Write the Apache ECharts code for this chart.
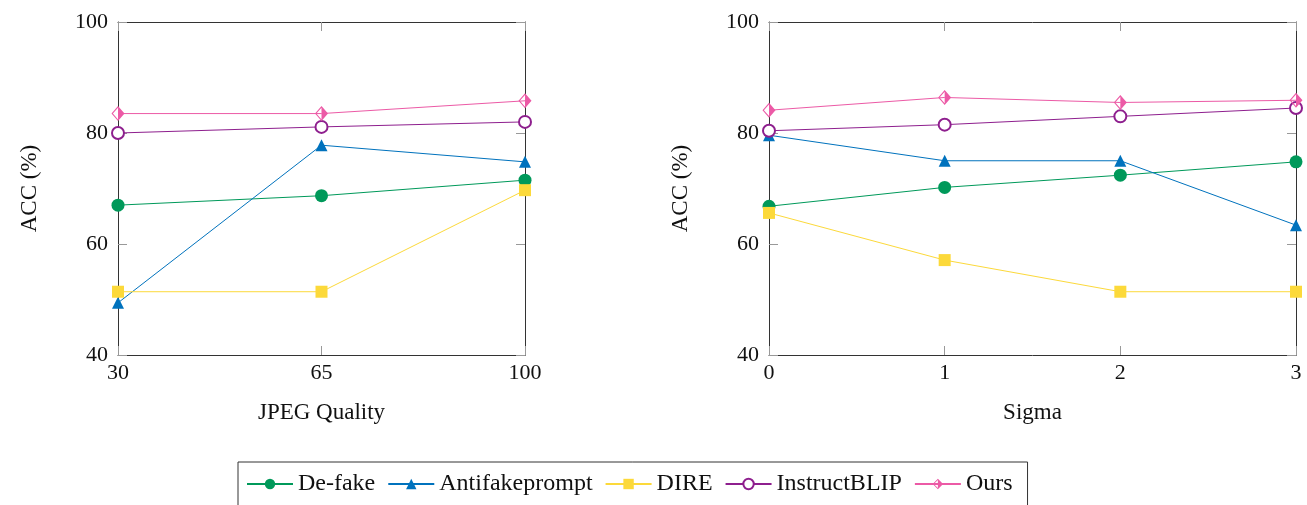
<!DOCTYPE html>
<html>
<head>
<meta charset="utf-8">
<script src="https://cdn.jsdelivr.net/npm/echarts@6/dist/echarts.min.js"></script>
<style>
  html, body { margin: 0; padding: 0; background: #fff; }
  #main { width: 1307px; height: 505px; }
</style>
</head>
<body>
<div id="main"></div>
<script>
// x categories
var jpegQuality = ['30', '65', '100'];
var sigmaLevels = ['0', '1', '2', '3'];

// left: JPEG quality
var jpegDefake = [67.0, 68.7, 71.5];
var jpegAntifake = [49.4, 77.8, 74.8];
var jpegDire = [51.4, 51.4, 69.7];
var jpegInstruct = [80.0, 81.1, 82.0];
var jpegOurs = [83.5, 83.5, 85.8];

// right: gaussian blur sigma
var sigmaDefake = [66.8, 70.2, 72.4, 74.8];
var sigmaAntifake = [79.6, 75.0, 75.0, 63.4];
var sigmaDire = [65.6, 57.1, 51.4, 51.4];
var sigmaInstruct = [80.4, 81.5, 83.0, 84.5];
var sigmaOurs = [84.1, 86.4, 85.5, 85.9];

var yTicks = [40, 60, 80, 100];

var FONT = 'Liberation Serif';
var colors = {
    'De-fake': '#00995a',
    'Antifakeprompt': '#0072bd',
    'DIRE': '#fcd93a',
    'InstructBLIP': '#8e1f8e',
    'Ours': '#ec5aa6'
};
// diamond with right half filled
var halfDiamond = 'path://M6,0 L12,10 L6,20 L0,10 Z M6,2.2 L1.3,10 L6,17.8 Z';

var marks = {
    'De-fake': { symbol: 'circle', symbolSize: 13 },
    'Antifakeprompt': { symbol: 'triangle', symbolSize: 12 },
    'DIRE': { symbol: 'rect', symbolSize: 12 },
    'InstructBLIP': { symbol: 'emptyCircle', symbolSize: 12 },
    'Ours': { symbol: halfDiamond, symbolSize: [13, 15] }
};

function makeSeries(name, data, idx) {
    return {
        name: name,
        type: 'line',
        xAxisIndex: idx * 2,
        yAxisIndex: idx * 2,
        data: data,
        symbol: marks[name].symbol,
        symbolSize: marks[name].symbolSize,
        color: colors[name],
        lineStyle: { width: 1, color: colors[name] },
        itemStyle: { color: colors[name], borderWidth: 1 },
        animation: false,
        z: 3
    };
}

function xAxes(cats, gridIndex, title) {
    var base = {
        type: 'category',
        gridIndex: gridIndex,
        data: cats,
        boundaryGap: false,
        axisLine: { lineStyle: { color: '#333', width: 1 } },
        axisTick: { show: true, inside: true, length: 9, lineStyle: { color: '#999' } },
        splitLine: { show: false }
    };
    var bottom = Object.assign({}, base, {
        position: 'bottom',
        name: title,
        nameLocation: 'middle',
        nameGap: 46,
        nameTextStyle: { fontFamily: FONT, fontSize: 23, color: '#111' },
        axisLabel: { fontFamily: FONT, fontSize: 22, color: '#111', margin: 7 }
    });
    var top = Object.assign({}, base, {
        position: 'top',
        axisLabel: { show: false }
    });
    return [bottom, top];
}

function yAxes(gridIndex) {
    var base = {
        type: 'value',
        gridIndex: gridIndex,
        min: yTicks[0],
        max: yTicks[yTicks.length - 1],
        interval: 20,
        axisLine: { show: true, lineStyle: { color: '#333', width: 1 } },
        axisTick: { show: true, inside: true, length: 9, lineStyle: { color: '#999' } },
        splitLine: { show: false }
    };
    var left = Object.assign({}, base, {
        position: 'left',
        name: 'ACC (%)',
        nameLocation: 'middle',
        nameGap: 77,
        nameTextStyle: { fontFamily: FONT, fontSize: 23, color: '#111' },
        axisLabel: { fontFamily: FONT, fontSize: 22, color: '#111', margin: 10 }
    });
    var right = Object.assign({}, base, {
        position: 'right',
        axisLabel: { show: false }
    });
    return [left, right];
}

var myChart = echarts.init(document.getElementById('main'));

var option = {
    backgroundColor: '#fff',
    animation: false,
    grid: [
        { left: 118, top: 22, width: 407, height: 333 },
        { left: 769, top: 22, width: 527, height: 333 }
    ],
    legend: {
        left: 238,
        top: 462,
        orient: 'horizontal',
        data: ['De-fake', 'Antifakeprompt', 'DIRE', 'InstructBLIP', 'Ours'],
        itemWidth: 46,
        itemHeight: 13,
        itemGap: 12,
        padding: [10, 15, 14, 8],
        borderColor: '#333',
        borderWidth: 1,
        borderRadius: 0,
        textStyle: { fontFamily: FONT, fontSize: 24, color: '#111' }
    },
    xAxis: xAxes(jpegQuality, 0, 'JPEG Quality').concat(xAxes(sigmaLevels, 1, 'Sigma')),
    yAxis: yAxes(0).concat(yAxes(1)),
    series: [
        makeSeries('De-fake', jpegDefake, 0),
        makeSeries('Antifakeprompt', jpegAntifake, 0),
        makeSeries('DIRE', jpegDire, 0),
        makeSeries('InstructBLIP', jpegInstruct, 0),
        makeSeries('Ours', jpegOurs, 0),
        makeSeries('De-fake', sigmaDefake, 1),
        makeSeries('Antifakeprompt', sigmaAntifake, 1),
        makeSeries('DIRE', sigmaDire, 1),
        makeSeries('InstructBLIP', sigmaInstruct, 1),
        makeSeries('Ours', sigmaOurs, 1)
    ]
};
myChart.setOption(option);
</script>
</body>
</html>
